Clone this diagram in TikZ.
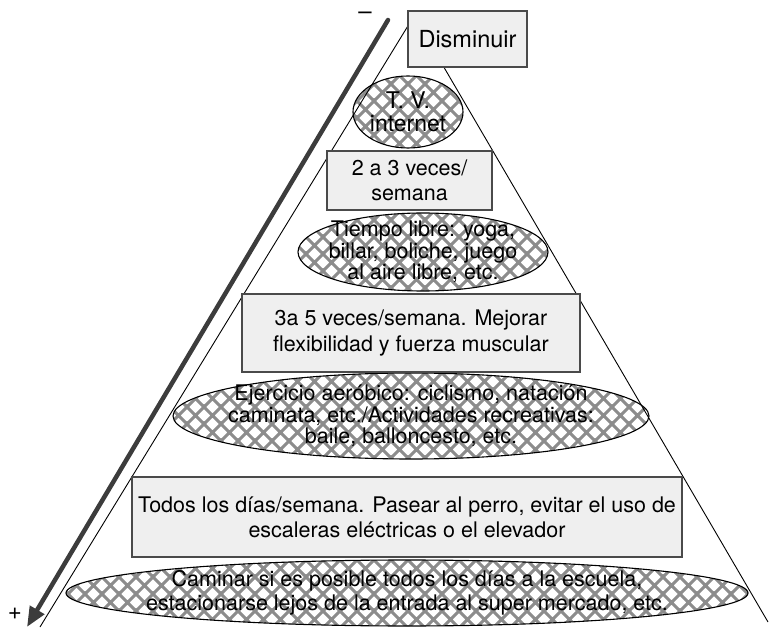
\documentclass[tikz,border=0pt]{standalone}
\usepackage{fontspec}
\setmainfont{TeX Gyre Heros}
\usetikzlibrary{patterns,arrows.meta,shapes.geometric}

% open diagonal cross-hatch used inside the activity ellipses
\pgfdeclarepatternformonly{xhatch}
  {\pgfpoint{-2pt}{-2pt}}{\pgfpoint{19pt}{19pt}}{\pgfpoint{17pt}{17pt}}
  {\pgfsetlinewidth{3.1pt}
   \pgfpathmoveto{\pgfpoint{-2pt}{-2pt}}\pgfpathlineto{\pgfpoint{19pt}{19pt}}
   \pgfpathmoveto{\pgfpoint{-2pt}{19pt}}\pgfpathlineto{\pgfpoint{19pt}{-2pt}}
   \pgfusepath{stroke}}

\definecolor{boxfill}{HTML}{EFEFEF}
\definecolor{boxline}{HTML}{4A4A4A}
\definecolor{hatch}{HTML}{8C8C8C}
\definecolor{arrowgray}{HTML}{3C3C3C}

\tikzset{
  stepbox/.style={draw=boxline, fill=boxfill, line width=1.3pt, inner sep=0pt},
  hatchellipse/.style={ellipse, draw=black, line width=1.1pt, inner sep=0pt,
    preaction={fill=white}, pattern=xhatch, pattern color=hatch},
  boxtext/.style={align=center, font=\fontsize{21.5}{25}\selectfont},
  elltext/.style={align=center, font=\fontsize{21.5}{21.5}\selectfont},
  edge/.style={draw=black, line width=0.9pt},
  scalearrow/.style={draw=arrowgray, line width=4.5pt, line cap=round,
    -{Triangle[length=20pt,width=16pt]}},
  signlabel/.style={font=\fontsize{24}{24}\selectfont, inner sep=0pt},
}

\begin{document}
\begin{tikzpicture}[x=1pt, y=-1pt]
  \useasboundingbox (0,0) rectangle (769,628);

  % hatched ellipses (leisure and exercise activities)
  \node[hatchellipse, minimum width=110pt, minimum height=72pt] (tv) at (408,112) {};
  \node[hatchellipse, minimum width=250pt, minimum height=78pt] (libre) at (423,252) {};
  \node[hatchellipse, minimum width=476pt, minimum height=86pt] (aerob) at (411,416) {};
  \node[hatchellipse, minimum width=682pt, minimum height=66pt] (caminar) at (407,593) {};

  % pyramid outline
  \coordinate (apex) at (414,16);
  \coordinate (baseL) at (40,627);
  \coordinate (baseR) at (768,622);
  \draw[edge] (baseL) -- (apex) -- (baseR);

  % frequency boxes
  \node[stepbox, minimum width=119pt, minimum height=56pt] (dism) at (467.5,39) {};
  \node[stepbox, minimum width=165pt, minimum height=59pt] (f23) at (409.5,180.5) {};
  \node[stepbox, minimum width=338pt, minimum height=78pt] (f35) at (411,333) {};
  \node[stepbox, minimum width=550pt, minimum height=80pt] (diario) at (407,517) {};

  % texts
  \node[boxtext, font=\fontsize{23.5}{25}\selectfont] at (dism) {Disminuir};
  \node[elltext, font=\fontsize{23}{23}\selectfont] at (tv) {T. V.\\internet};
  \node[boxtext] at (f23) {2 a 3 veces/\\semana};
  \node[elltext, font=\fontsize{21.5}{20}\selectfont] at (libre) {Tiempo libre: yoga,\\billar, boliche, juego\\al aire libre, etc.};
  \node[boxtext, font=\fontsize{21.5}{26}\selectfont] at (f35) {3a 5 veces/semana. Mejorar\\flexibilidad y fuerza muscular};
  \node[elltext] at (aerob) {Ejercicio aeróbico: ciclismo, natación\\caminata, etc./Actividades recreativas:\\baile, balloncesto, etc.};
  \node[boxtext] at (diario) {Todos los días/semana. Pasear al perro, evitar el uso de\\escaleras eléctricas o el elevador};
  \node[elltext, font=\fontsize{21.5}{24.5}\selectfont] at (caminar) {Caminar si es posible todos los días a la escuela,\\estacionarse lejos de la entrada al super mercado, etc.};

  % less / more scale arrow
  \coordinate (scaletop) at (388,20);
  \coordinate (scaletip) at (27,627);
  \draw[scalearrow] (scaletop) -- (scaletip);
  \node[signlabel] (menos) at (365,16) {–};
  \node[signlabel] (mas) at (15,614) {+};
\end{tikzpicture}
\end{document}
